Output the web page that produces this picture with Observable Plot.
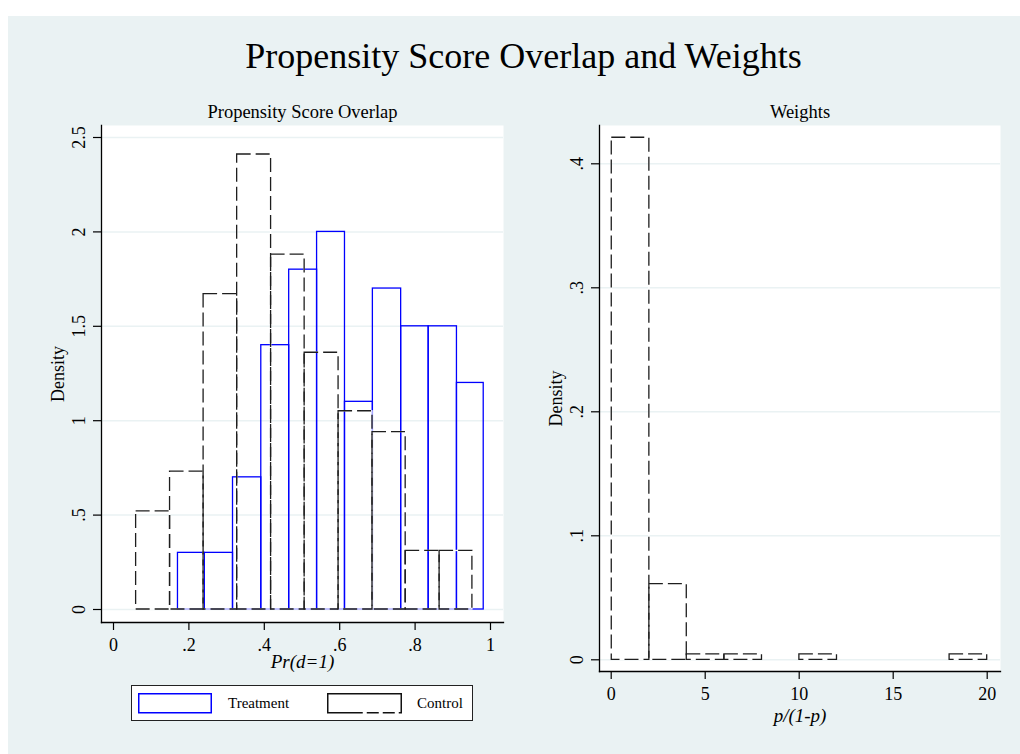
<!DOCTYPE html>
<html><head><meta charset="utf-8">
<script src="https://cdn.jsdelivr.net/npm/d3@7"></script>
<script src="https://cdn.jsdelivr.net/npm/@observablehq/plot@0.6"></script>
<style>
body{margin:0;background:#fff;}
#page{position:relative;width:1020px;height:754px;overflow:hidden;font-family:"Liberation Serif","Times New Roman",serif;color:#000;}
#bg{position:absolute;left:8px;top:16px;right:0;bottom:0;background:#eaf2f3;}
#title{position:absolute;left:0;top:38px;width:1047px;text-align:center;font-size:36px;line-height:36px;white-space:nowrap;}
.panel{position:absolute;}
#legend{position:absolute;left:131px;top:685px;width:342px;height:36px;box-sizing:border-box;border:1px solid #222;background:#fff;}
.lg{position:absolute;font-size:15px;line-height:15px;white-space:nowrap;}
</style>
</head><body>
<div id="page">
  <div id="bg"></div>
  <div id="title">Propensity Score Overlap and Weights</div>
  <div id="left" class="panel" style="left:30px;top:100px;"></div>
  <div id="right" class="panel" style="left:530px;top:100px;"></div>
  <div id="legend"></div>
  <svg style="position:absolute;left:138px;top:693px;" width="75" height="21"><rect x="0.75" y="0.75" width="72.5" height="19" fill="#fff" stroke="#0000ff" stroke-width="1.5"/></svg>
  <div class="lg" style="left:228px;top:696px;">Treatment</div>
  <svg style="position:absolute;left:327px;top:693px;" width="76" height="21"><rect x="0.75" y="0.75" width="73.5" height="19" fill="#fff" stroke="#111" stroke-width="1.5" stroke-dasharray="95,4,12,4,12,4"/></svg>
  <div class="lg" style="left:417px;top:696px;">Control</div>
</div>
<script>
// ---- Data ----
const controlEdges   = [0.060, 0.150, 0.239, 0.328, 0.418, 0.507, 0.597, 0.687, 0.775, 0.865, 0.952];
const controlDensity = [0.52, 0.73, 1.67, 2.41, 1.88, 1.36, 1.05, 0.94, 0.31, 0.31];
const treatEdges     = [0.171, 0.242, 0.317, 0.392, 0.466, 0.540, 0.614, 0.688, 0.763, 0.836, 0.911, 0.982];
const treatDensity   = [0.30, 0.30, 0.70, 1.40, 1.80, 2.00, 1.10, 1.70, 1.50, 1.50, 1.20];
const weightEdges    = [0.03, 2.03, 4.02, 6.02, 8.02, 10.01, 12.01, 14.0, 16.0, 18.0, 20.0];
const weightDensity  = [0.421, 0.061, 0.0043, 0.0043, 0, 0.0043, 0, 0, 0, 0.0043];
const leftXTicks  = [0, 0.2, 0.4, 0.6, 0.8, 1];
const leftYTicks  = [0, 0.5, 1, 1.5, 2, 2.5];
const rightXTicks = [0, 5, 10, 15, 20];
const rightYTicks = [0, 0.1, 0.2, 0.3, 0.4];

const bins = (edges, dens) => dens.map((d, i) => ({x1: edges[i], x2: edges[i + 1], y: d})).filter(b => b.y > 0);
const fmt = d => d === 0 ? "0" : String(d).replace(/^0\./, ".");
const GRID = "#eaf2f3";
const DASH = "#1e1e1e";
const style = {fontFamily: "Liberation Serif, Times New Roman, serif", background: "transparent", overflow: "visible", color: "#000"};

function commonMarks(xTicks, yTicks, title, xLabel, xLabelDy) {
  return [
    Plot.axisY({ticks: yTicks, tickSize: 8, tickFormat: () => "", label: null, strokeWidth: 1.2}),
    Plot.axisX({ticks: xTicks, tickSize: 8, tickFormat: () => "", label: null, strokeWidth: 1.2}),
    Plot.frame({anchor: "left", stroke: "#000", strokeWidth: 1.3}),
    Plot.frame({anchor: "bottom", stroke: "#000", strokeWidth: 1.3}),
    Plot.text(yTicks, {y: d => d, text: fmt, frameAnchor: "left", dx: -22, rotate: -90, fontSize: 18, textAnchor: "middle", lineAnchor: "middle"}),
    Plot.text(xTicks, {x: d => d, text: fmt, frameAnchor: "bottom", dy: 23, fontSize: 18, textAnchor: "middle", lineAnchor: "middle"}),
    Plot.text(["Density"], {text: d => d, frameAnchor: "left", dx: -43, rotate: -90, fontSize: 18, textAnchor: "middle", lineAnchor: "middle"}),
    Plot.text([xLabel], {text: d => d, frameAnchor: "bottom", dy: xLabelDy, fontSize: 19, fontStyle: "italic", textAnchor: "middle", lineAnchor: "middle"}),
    Plot.text([title], {text: d => d, frameAnchor: "top", dy: -13, fontSize: 18.5, textAnchor: "middle", lineAnchor: "middle"})
  ];
}

function dashedBars(data) {
  return [
    Plot.rect(data, {x1: "x1", x2: "x2", y1: 0, y2: "y", fill: "none", stroke: "#fff", strokeWidth: 1.3}),
    Plot.rect(data, {x1: "x1", x2: "x2", y1: 0, y2: "y", fill: "none", stroke: DASH, strokeWidth: 1.3, strokeDasharray: "14,5"})
  ];
}

const left = Plot.plot({
  width: 480, height: 590,
  marginLeft: 71, marginRight: 7, marginTop: 25, marginBottom: 68,
  style,
  x: {domain: [0, 1], range: [83, 460]},
  y: {domain: [0, 2.5], range: [509, 37]},
  marks: [
    Plot.frame({fill: "#fff", stroke: null}),
    Plot.ruleY(leftYTicks, {stroke: GRID, strokeWidth: 1.5}),
    Plot.rect(bins(treatEdges, treatDensity), {x1: "x1", x2: "x2", y1: 0, y2: "y", fill: "none", stroke: "#0000ff", strokeWidth: 1.3}),
    ...dashedBars(bins(controlEdges, controlDensity)),
    ...commonMarks(leftXTicks, leftYTicks, "Propensity Score Overlap", "Pr(d=1)", 39)
  ]
});
document.getElementById("left").append(left);

const right = Plot.plot({
  width: 490, height: 640,
  marginLeft: 69, marginRight: 20, marginTop: 25, marginBottom: 69,
  style,
  x: {domain: [0, 20], range: [80.7, 456.7]},
  y: {domain: [0, 0.4], range: [559.3, 63.3]},
  marks: [
    Plot.frame({fill: "#fff", stroke: null}),
    Plot.ruleY(rightYTicks, {stroke: GRID, strokeWidth: 1.5}),
    ...dashedBars(bins(weightEdges, weightDensity)),
    ...commonMarks(rightXTicks, rightYTicks, "Weights", "p/(1-p)", 44)
  ]
});
document.getElementById("right").append(right);
</script>
</body></html>
